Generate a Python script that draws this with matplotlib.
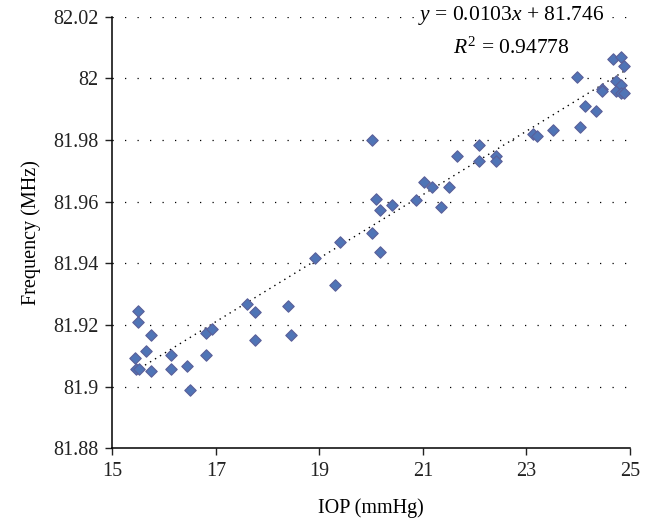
import numpy as np
import matplotlib
matplotlib.use("Agg")
import matplotlib.pyplot as plt

# IOP (mmHg) vs resonant frequency (MHz)
iop = [15.44, 15.46, 15.52, 15.50, 15.50, 15.66, 15.75, 15.75, 16.13, 16.13,
       16.45, 16.50, 16.81, 16.81, 16.92, 17.60, 17.76, 17.76, 18.39, 18.45,
       18.92, 19.30, 19.39, 20.02, 20.02, 20.09, 20.18, 20.18, 20.40, 20.86,
       21.02, 21.18, 21.34, 21.50, 21.65, 22.09, 22.09, 22.41, 22.41, 23.13,
       23.20, 23.51, 24.03, 23.97, 24.13, 24.34, 24.45, 24.45, 24.67, 24.72,
       24.72, 24.83, 24.83, 24.83, 24.88, 24.88]
freq = [81.9094, 81.9056, 81.9056, 81.9247, 81.9209, 81.9115, 81.9167, 81.9051, 81.9104, 81.9057,
        81.9067, 81.8988, 81.9173, 81.9104, 81.9188, 81.9267, 81.9241, 81.9153, 81.9263, 81.9167,
        81.9416, 81.9331, 81.9468, 81.9800, 81.9500, 81.9609, 81.9573, 81.9436, 81.9589, 81.9605,
        81.9663, 81.9648, 81.9583, 81.9647, 81.9748, 81.9783, 81.9731, 81.9748, 81.9731, 81.9821,
        81.9814, 81.9833, 81.9843, 82.0004, 81.9910, 81.9895, 81.9964, 81.9960, 82.0063, 81.9991,
        81.9960, 82.0070, 81.9978, 81.9951, 82.0041, 81.9951]

slope = 0.0103
intercept = 81.746
r2 = 0.94778

x_ticks = [15, 17, 19, 21, 23, 25]
y_ticks = [81.88, 81.9, 81.92, 81.94, 81.96, 81.98, 82, 82.02]
y_labels = ["81.88", "81.9", "81.92", "81.94", "81.96", "81.98", "82", "82.02"]

plt.rcParams["font.family"] = ["Liberation Serif", "DejaVu Serif"]
plt.rcParams["mathtext.fontset"] = "custom"
plt.rcParams["mathtext.rm"] = "Liberation Serif"
plt.rcParams["mathtext.it"] = "Liberation Serif:italic"

fig = plt.figure(figsize=(6.56, 5.19), dpi=100)
ax = fig.add_axes([0.1712, 0.1360, 0.7892, 0.8318])

# dotted horizontal gridlines
for yv in y_ticks[1:]:
    ax.axhline(yv, color="black", lw=0.9, ls=(0, (1.0, 9.0)), zorder=1)

# trendline
xl = np.array([min(iop), max(iop)])
ax.plot(xl, slope * xl + intercept, color="black", lw=1.0, ls=(0, (1.0, 3.2)), zorder=2)

ax.scatter(iop, freq, marker="D", s=34, facecolor="#4F74B6", edgecolor="#5A5F99",
           linewidth=0.8, zorder=3)

ax.set_xlim(15, 25)
ax.set_ylim(81.88, 82.02)
ax.set_xticks(x_ticks)
ax.set_yticks(y_ticks)
ax.set_yticklabels(y_labels)
ax.tick_params(direction="out", length=5, width=1, labelsize=14.5, pad=5, colors="#222222")
for s in ["top", "right"]:
    ax.spines[s].set_visible(False)
for s in ["left", "bottom"]:
    ax.spines[s].set_linewidth(1.1)

ax.set_xlabel("IOP (mmHg)", fontsize=14.5, labelpad=12)
ax.set_ylabel("Frequency (MHz)", fontsize=14.5, labelpad=9)

ax.text(0.77, 1.003, r"$y$ = 0.0103$x$ + 81.746", transform=ax.transAxes,
        ha="center", va="center", fontsize=15.5, zorder=4,
        bbox=dict(facecolor="white", edgecolor="none", pad=1))
ax.text(0.77, 0.928, r"$R^2$ = 0.94778", transform=ax.transAxes,
        ha="center", va="center", fontsize=15.5, zorder=4)

fig.savefig("out.png", dpi=100)
